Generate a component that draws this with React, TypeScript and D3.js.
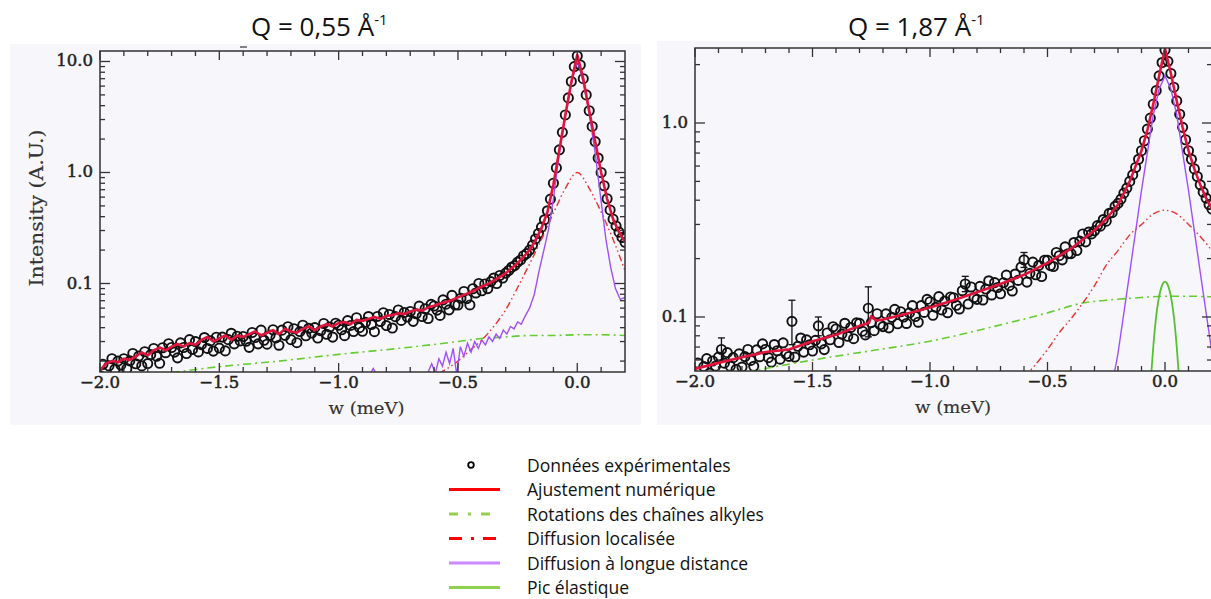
import React from 'react';
import * as d3 from 'd3';

// ---- sampling grid of the measured spectra (meV) ----
const W_START = -2.0;
const W_STEP = 0.0125;

// ---- Q = 0,55 Å-1 : experimental points (one per grid step, -2.0 .. 0.2 meV) ----
const DATA_Q055 = [
  0.0148, 0.0187, 0.0142, 0.0181, 0.021, 0.0169, 0.02, 0.0184,
  0.021, 0.0171, 0.0201, 0.0234, 0.0189, 0.0222, 0.0181, 0.0243,
  0.019, 0.0229, 0.026, 0.0221, 0.0191, 0.0264, 0.0238, 0.0287,
  0.0265, 0.0241, 0.0214, 0.0292, 0.0265, 0.0234, 0.0312, 0.0255,
  0.03, 0.0242, 0.0281, 0.0326, 0.026, 0.0304, 0.0246, 0.0328,
  0.0262, 0.0329, 0.0247, 0.0312, 0.0356, 0.0286, 0.0335, 0.0304,
  0.0333, 0.0302, 0.0266, 0.0362, 0.0326, 0.0286, 0.038, 0.0308,
  0.0284, 0.0341, 0.0383, 0.0324, 0.0278, 0.038, 0.0341, 0.0408,
  0.0312, 0.0391, 0.0293, 0.0369, 0.0421, 0.0338, 0.0395, 0.0358,
  0.04, 0.0323, 0.0375, 0.0436, 0.0349, 0.0406, 0.0329, 0.0439,
  0.0421, 0.0383, 0.0339, 0.0463, 0.0419, 0.0369, 0.0492, 0.04,
  0.0371, 0.0447, 0.0504, 0.0427, 0.0368, 0.0505, 0.0455, 0.0545,
  0.0418, 0.0526, 0.0397, 0.0503, 0.0578, 0.0465, 0.0548, 0.0499,
  0.056, 0.0456, 0.0534, 0.0625, 0.0504, 0.0592, 0.0484, 0.0649,
  0.0627, 0.0576, 0.0516, 0.0712, 0.0651, 0.0579, 0.0781, 0.0641,
  0.064, 0.0737, 0.0848, 0.0731, 0.0641, 0.0897, 0.0822, 0.1,
  0.086, 0.099, 0.09, 0.104, 0.112, 0.1, 0.118, 0.112,
  0.124, 0.131, 0.14, 0.145, 0.156, 0.163, 0.178, 0.186,
  0.2, 0.222, 0.252, 0.282, 0.322, 0.375, 0.452, 0.575,
  0.8, 1.1, 1.6, 2.3, 3.3, 4.7, 6.6, 9.0,
  11.2, 9.3, 7.0, 5.0, 3.6, 2.6, 1.9, 1.35,
  1.0, 0.76, 0.58, 0.46, 0.38, 0.33, 0.29, 0.26,
  0.235,
];

// ---- Q = 1,87 Å-1 : experimental points ----
const DATA_Q187 = [
  0.0497, 0.0578, 0.049, 0.0555, 0.061, 0.0514, 0.0593, 0.0558,
  0.0621, 0.068, 0.0578, 0.0655, 0.0558, 0.0617, 0.0537, 0.0646,
  0.0552, 0.0625, 0.068, 0.0597, 0.0557, 0.0677, 0.0624, 0.0727,
  0.068, 0.0617, 0.0585, 0.0721, 0.067, 0.0606, 0.0736, 0.0644,
  0.0626, 0.095, 0.0621, 0.0706, 0.0779, 0.0659, 0.0762, 0.0719,
  0.0668, 0.0758, 0.09, 0.0727, 0.0679, 0.0827, 0.0763, 0.0891,
  0.0867, 0.0739, 0.0816, 0.0928, 0.0795, 0.0883, 0.0773, 0.0933,
  0.0927, 0.0845, 0.0808, 0.111, 0.0935, 0.085, 0.1039, 0.0913,
  0.0892, 0.1038, 0.0879, 0.0996, 0.1095, 0.0923, 0.1064, 0.1,
  0.0926, 0.105, 0.1145, 0.1006, 0.094, 0.1145, 0.1056, 0.1232,
  0.1198, 0.102, 0.1122, 0.1274, 0.1088, 0.1207, 0.1052, 0.1268,
  0.1257, 0.1149, 0.11, 0.1366, 0.148, 0.1166, 0.1428, 0.1259,
  0.1233, 0.1439, 0.1224, 0.1393, 0.1537, 0.1299, 0.1503, 0.1419,
  0.1317, 0.1501, 0.1645, 0.1451, 0.1362, 0.1665, 0.1544, 0.1808,
  0.197, 0.1513, 0.1679, 0.1918, 0.1651, 0.1842, 0.1617, 0.1962,
  0.196, 0.184, 0.182, 0.215, 0.207, 0.197, 0.23, 0.212,
  0.212, 0.242, 0.22, 0.246, 0.268, 0.244, 0.274, 0.268,
  0.278, 0.296, 0.294, 0.318, 0.312, 0.342, 0.345, 0.372,
  0.385, 0.405, 0.435, 0.462, 0.5, 0.54, 0.59, 0.65,
  0.72, 0.81, 0.93, 1.06, 1.25, 1.47, 1.75, 2.05,
  2.38, 2.08, 1.8, 1.53, 1.3, 1.11, 0.95, 0.82,
  0.72, 0.65, 0.58, 0.53, 0.48, 0.44, 0.41, 0.38,
  0.36,
];

// visible error bars on Q = 1,87 : [w, low, high]
const ERRBARS_Q187: [number, number, number][] = [
  [-1.8875, 0.06, 0.078],
  [-1.5875, 0.072, 0.122],
  [-1.475, 0.08, 0.1],
  [-1.2625, 0.079, 0.143],
  [-0.85, 0.135, 0.162],
  [-0.6, 0.18, 0.215],
];

// ---- fits and components : [w, intensity] ----
const FIT_Q055: [number, number][] = [
  [-2.0, 0.0165], [-1.975, 0.019], [-1.95, 0.02], [-1.925, 0.0195], [-1.9, 0.021], [-1.875, 0.0205],
  [-1.85, 0.022], [-1.825, 0.024], [-1.8, 0.0225], [-1.775, 0.025], [-1.75, 0.0265], [-1.725, 0.025],
  [-1.7, 0.027], [-1.675, 0.0285], [-1.65, 0.027], [-1.625, 0.029], [-1.6, 0.028], [-1.575, 0.031],
  [-1.55, 0.033], [-1.525, 0.03], [-1.5, 0.032], [-1.475, 0.034], [-1.45, 0.031], [-1.425, 0.034],
  [-1.4, 0.033], [-1.375, 0.035], [-1.35, 0.037], [-1.325, 0.034], [-1.3, 0.036], [-1.275, 0.038],
  [-1.25, 0.035], [-1.225, 0.039], [-1.2, 0.037], [-1.175, 0.036], [-1.15, 0.039], [-1.125, 0.041],
  [-1.1, 0.038], [-1.075, 0.041], [-1.05, 0.043], [-1.025, 0.041], [-1.0, 0.044], [-0.975, 0.045],
  [-0.95, 0.043], [-0.925, 0.047], [-0.9, 0.046], [-0.875, 0.048], [-0.85, 0.05], [-0.825, 0.048],
  [-0.8, 0.051], [-0.775, 0.052], [-0.75, 0.054], [-0.725, 0.053], [-0.7, 0.056], [-0.675, 0.058],
  [-0.65, 0.057], [-0.625, 0.061], [-0.6, 0.063], [-0.575, 0.066], [-0.55, 0.068], [-0.525, 0.071],
  [-0.5, 0.075], [-0.475, 0.079], [-0.45, 0.083], [-0.425, 0.088], [-0.4, 0.094], [-0.375, 0.099],
  [-0.35, 0.106], [-0.325, 0.114], [-0.3, 0.124], [-0.275, 0.137], [-0.25, 0.153], [-0.225, 0.174],
  [-0.2, 0.2], [-0.175, 0.245], [-0.15, 0.315], [-0.125, 0.44], [-0.1, 0.78], [-0.075, 1.6],
  [-0.05, 3.3], [-0.025, 6.5], [0.0, 11.5], [0.025, 7.0], [0.05, 3.6], [0.075, 1.9], [0.1, 1.0],
  [0.125, 0.58], [0.15, 0.38], [0.175, 0.29], [0.2, 0.235],
];

const LONG_Q055: [number, number][] = [
  [-0.87, 0.015], [-0.855, 0.0172], [-0.84, 0.015],
  [-0.63, 0.015], [-0.61, 0.019], [-0.595, 0.0155], [-0.58, 0.021], [-0.565, 0.018], [-0.55, 0.024],
  [-0.535, 0.019], [-0.52, 0.026], [-0.505, 0.015], [-0.49, 0.027], [-0.475, 0.022], [-0.46, 0.029],
  [-0.445, 0.024], [-0.43, 0.03], [-0.415, 0.026], [-0.4, 0.031], [-0.385, 0.028], [-0.37, 0.033],
  [-0.355, 0.03], [-0.34, 0.035], [-0.325, 0.032], [-0.31, 0.038], [-0.295, 0.035], [-0.28, 0.041],
  [-0.265, 0.039], [-0.25, 0.045], [-0.235, 0.043], [-0.22, 0.05], [-0.2, 0.06], [-0.18, 0.08],
  [-0.16, 0.13], [-0.14, 0.2], [-0.12, 0.31], [-0.1, 0.58], [-0.075, 1.5], [-0.05, 3.2],
  [-0.025, 6.3], [0.0, 10.3], [0.025, 6.5], [0.05, 3.4], [0.075, 1.5], [0.1, 0.55], [0.12, 0.25],
  [0.14, 0.14], [0.16, 0.09], [0.18, 0.072], [0.2, 0.075],
];

const LOCAL_Q055: [number, number][] = [
  [-0.58, 0.0155], [-0.5, 0.02], [-0.45, 0.025], [-0.4, 0.031], [-0.35, 0.041], [-0.3, 0.058],
  [-0.25, 0.092], [-0.2, 0.15], [-0.15, 0.25], [-0.1, 0.43], [-0.05, 0.72], [0.0, 1.0],
  [0.05, 0.72], [0.1, 0.44], [0.15, 0.25], [0.2, 0.13],
];

const ROT_Q055: [number, number][] = [
  [-1.7, 0.0158], [-1.5, 0.0178], [-1.25, 0.02], [-1.0, 0.023], [-0.75, 0.026], [-0.5, 0.03],
  [-0.4, 0.032], [-0.3, 0.033], [-0.2, 0.034], [-0.1, 0.034], [0.0, 0.0345], [0.1, 0.0345], [0.2, 0.034],
];

const FIT_Q187: [number, number][] = [
  [-2.0, 0.054], [-1.9, 0.058], [-1.8, 0.062], [-1.7, 0.066], [-1.6, 0.068], [-1.5, 0.075],
  [-1.4, 0.081], [-1.3, 0.09], [-1.26, 0.093], [-1.25, 0.101], [-1.23, 0.096], [-1.2, 0.097],
  [-1.1, 0.104], [-1.0, 0.112], [-0.9, 0.122], [-0.8, 0.134], [-0.7, 0.148], [-0.6, 0.165],
  [-0.5, 0.19], [-0.4, 0.225], [-0.3, 0.28], [-0.25, 0.32], [-0.2, 0.38], [-0.15, 0.5],
  [-0.1, 0.72], [-0.075, 0.92], [-0.05, 1.25], [-0.025, 1.75], [0.0, 2.42], [0.025, 1.8],
  [0.05, 1.3], [0.075, 0.95], [0.1, 0.72], [0.125, 0.58], [0.15, 0.48], [0.175, 0.41], [0.2, 0.36],
];

const LONG_Q187: [number, number][] = [
  [-0.22, 0.048], [-0.2, 0.065], [-0.15, 0.17], [-0.1, 0.45], [-0.05, 1.1], [-0.025, 1.5],
  [0.0, 1.75], [0.025, 1.5], [0.05, 1.1], [0.1, 0.45], [0.15, 0.17], [0.2, 0.065], [0.22, 0.048],
];

const LOCAL_Q187: [number, number][] = [
  [-0.6, 0.049], [-0.55, 0.057], [-0.5, 0.068], [-0.45, 0.083], [-0.4, 0.098], [-0.35, 0.118],
  [-0.3, 0.145], [-0.25, 0.185], [-0.2, 0.22], [-0.15, 0.265], [-0.1, 0.3], [-0.05, 0.34],
  [0.0, 0.355], [0.05, 0.34], [0.1, 0.3], [0.15, 0.26], [0.2, 0.22],
];

const ROT_Q187: [number, number][] = [
  [-1.78, 0.052], [-1.5, 0.06], [-1.25, 0.067], [-1.0, 0.075], [-0.75, 0.088], [-0.5, 0.105],
  [-0.35, 0.118], [-0.25, 0.122], [-0.1, 0.126], [0.0, 0.128], [0.1, 0.128], [0.2, 0.127],
];

const ELASTIC_Q187: [number, number][] = [
  [-0.06, 0.048], [-0.05, 0.07], [-0.04, 0.095], [-0.03, 0.118], [-0.02, 0.136], [-0.01, 0.148],
  [0.0, 0.152], [0.01, 0.148], [0.02, 0.136], [0.03, 0.118], [0.04, 0.095], [0.05, 0.07], [0.06, 0.048],
];

const X_DOMAIN: [number, number] = [-2.0, 0.2];
const X_MAJOR = [-2.0, -1.5, -1.0, -0.5, 0.0];
const X_MINOR = [-1.9, -1.8, -1.7, -1.6, -1.4, -1.3, -1.2, -1.1, -0.9, -0.8, -0.7, -0.6, -0.4, -0.3, -0.2, -0.1, 0.1];
const X_LABELS = ['\u22122.0', '\u22121.5', '\u22121.0', '\u22120.5', '0.0'];

const LEGEND_LABELS = [
  'Données expérimentales',
  'Ajustement numérique',
  'Rotations des chaînes alkyles',
  'Diffusion localisée',
  'Diffusion à longue distance',
  'Pic élastique',
];

const C_FIT = '#e0143c';
const C_LOCAL = '#f03030';
const C_LONG = '#a050f8';
const C_ROT = '#66cc33';
const C_ELASTIC = '#55c030';

type PanelCfg = {
  id: string;
  q: string;
  titleX: number;
  bg: [number, number, number, number];
  x0: number; x1: number; y0: number; y1: number;
  yDomain: [number, number];
  yLabels: { v: number; t: string }[];
  data: number[];
  fit: [number, number][];
  long: [number, number][];
  local: [number, number][];
  rot: [number, number][];
  elastic?: [number, number][];
  errbars?: [number, number, number][];
  yTitle?: boolean;
};

const SERIF = '"DejaVu Serif", "Liberation Serif", serif';
const SANS = '"Open Sans", "Noto Sans", sans-serif';

function Panel({ c }: { c: PanelCfg }) {
  const x = d3.scaleLinear().domain(X_DOMAIN).range([c.x0, c.x1]);
  const y = d3.scaleLog().domain(c.yDomain).range([c.y1, c.y0]);
  const line = d3.line<[number, number]>().x(d => x(d[0])).y(d => y(d[1]));
  const smooth = d3.line<[number, number]>().x(d => x(d[0])).y(d => y(d[1])).curve(d3.curveMonotoneX);
  const yt = y.ticks().filter(v => v >= c.yDomain[0] && v <= c.yDomain[1]);
  const isMajor = (v: number) => Math.abs(Math.log10(v) - Math.round(Math.log10(v))) < 1e-6;
  const clip = `clip-${c.id}`;
  const xMid = (c.x0 + Math.min(c.x1, 1211)) / 2 + (c.id === 'a' ? 4 : 0);
  return (
    <g>
      <rect x={c.bg[0]} y={c.bg[1]} width={c.bg[2]} height={c.bg[3]} fill="#f7f7fb" />
      <defs>
        <clipPath id={clip}>
          <rect x={c.x0} y={c.y0} width={c.x1 - c.x0} height={c.y1 - c.y0} />
        </clipPath>
      </defs>
      <g clipPath={`url(#${clip})`}>
        {c.errbars && c.errbars.map(([w, lo, hi], i) => (
          <g key={'e' + i} stroke="#111" strokeWidth={1.3}>
            <line x1={x(w)} x2={x(w)} y1={y(lo)} y2={y(hi)} />
            <line x1={x(w) - 3.5} x2={x(w) + 3.5} y1={y(lo)} y2={y(lo)} />
            <line x1={x(w) - 3.5} x2={x(w) + 3.5} y1={y(hi)} y2={y(hi)} />
          </g>
        ))}
        {c.data.map((v, i) => (
          <circle key={i} cx={x(W_START + i * W_STEP)} cy={y(v)} r={4.6} fill="none" stroke="#111" strokeWidth={1.9} />
        ))}
        <path d={smooth(c.rot) || ''} fill="none" stroke={C_ROT} strokeWidth={1.6} strokeDasharray="8,4,2,4" />
        <path d={smooth(c.local) || ''} fill="none" stroke={C_LOCAL} strokeWidth={1.4} strokeDasharray="7,3,1.5,3,1.5,3" />
        <path d={line(c.long) || ''} fill="none" stroke={C_LONG} strokeWidth={1.4} />
        {c.elastic && <path d={smooth(c.elastic) || ''} fill="none" stroke={C_ELASTIC} strokeWidth={1.8} />}
        <path d={line(c.fit) || ''} fill="none" stroke={C_FIT} strokeWidth={2.6} strokeLinejoin="round" />
      </g>
      <rect x={c.x0} y={c.y0} width={c.x1 - c.x0} height={c.y1 - c.y0} fill="none" stroke="#333" strokeWidth={1.5} />
      <g stroke="#333" strokeWidth={1.3}>
        {X_MAJOR.map(v => (
          <g key={'M' + v}>
            <line x1={x(v)} x2={x(v)} y1={c.y1} y2={c.y1 - 9} />
            <line x1={x(v)} x2={x(v)} y1={c.y0} y2={c.y0 + 9} />
          </g>
        ))}
        {X_MINOR.map(v => (
          <g key={'m' + v}>
            <line x1={x(v)} x2={x(v)} y1={c.y1} y2={c.y1 - 5} />
            <line x1={x(v)} x2={x(v)} y1={c.y0} y2={c.y0 + 5} />
          </g>
        ))}
        {yt.map(v => {
          const L = isMajor(v) ? 10 : 5;
          return (
            <g key={'y' + v}>
              <line x1={c.x0} x2={c.x0 + L} y1={y(v)} y2={y(v)} />
              <line x1={c.x1} x2={c.x1 - L} y1={y(v)} y2={y(v)} />
            </g>
          );
        })}
      </g>
      <g fontFamily={SERIF} fontSize={16.5} fill="#222" stroke="#222" strokeWidth={0.5}>
        {X_MAJOR.map((v, i) => (
          <text key={'xl' + v} x={x(v)} y={c.y1 + 16} textAnchor="middle">{X_LABELS[i]}</text>
        ))}
        {c.yLabels.map(l => (
          <text key={'yl' + l.t} x={c.x0 - 7} y={y(l.v) + 5} textAnchor="end">{l.t}</text>
        ))}
      </g>
      <g fontFamily={SERIF} fill="#333" stroke="#333" strokeWidth={0.15}>
        <text x={xMid - 38} y={c.y1 + 42} fontSize={16.5} textLength={76} lengthAdjust="spacingAndGlyphs">w (meV)</text>
        {c.yTitle && (
          <text transform={`translate(43, ${(c.y0 + c.y1) / 2 + 75}) rotate(-90)`} fontSize={18}
            textLength={157} lengthAdjust="spacingAndGlyphs">Intensity (A.U.)</text>
        )}
      </g>
      <text x={c.titleX} y={36} fontFamily={SANS} fontSize={26} fill="#111">
        <tspan>{`Q = ${c.q} Å`}</tspan>
        <tspan fontSize={15} dy={-11}>-1</tspan>
      </text>
    </g>
  );
}

const PANELS: PanelCfg[] = [
  {
    id: 'a', q: '0,55', titleX: 251, bg: [10, 44, 631, 381],
    x0: 100, x1: 625, y0: 51, y1: 372, yDomain: [0.01595, 12.43],
    yLabels: [{ v: 10, t: '10.0' }, { v: 1, t: '1.0' }, { v: 0.1, t: '0.1' }],
    data: DATA_Q055, fit: FIT_Q055, long: LONG_Q055, local: LOCAL_Q055, rot: ROT_Q055, yTitle: true,
  },
  {
    id: 'b', q: '1,87', titleX: 848, bg: [657, 41, 554, 384],
    x0: 695, x1: 1212, y0: 48, y1: 371, yDomain: [0.05267, 2.436],
    yLabels: [{ v: 1, t: '1.0' }, { v: 0.1, t: '0.1' }],
    data: DATA_Q187, fit: FIT_Q187, long: LONG_Q187, local: LOCAL_Q187, rot: ROT_Q187,
    elastic: ELASTIC_Q187, errbars: ERRBARS_Q187,
  },
];

function Legend() {
  const rows = [465, 489.5, 514, 538.5, 563, 587.5];
  const lx0 = 449, lx1 = 500;
  return (
    <g>
      <circle cx={471} cy={rows[0]} r={2.8} fill="none" stroke="#000" strokeWidth={1.8} />
      <line x1={lx0} x2={lx1} y1={rows[1]} y2={rows[1]} stroke="#ff0000" strokeWidth={3} />
      <line x1={lx0} x2={lx1} y1={rows[2]} y2={rows[2]} stroke="#92d050" strokeWidth={3} strokeDasharray="9,10,3,10" />
      <line x1={lx0} x2={lx1} y1={rows[3]} y2={rows[3]} stroke="#ff0000" strokeWidth={3} strokeDasharray="13,9,3,9" />
      <line x1={lx0} x2={lx1} y1={rows[4]} y2={rows[4]} stroke="#cc88ff" strokeWidth={3} />
      <line x1={lx0} x2={lx1} y1={rows[5]} y2={rows[5]} stroke="#92d050" strokeWidth={3} />
      {LEGEND_LABELS.map((t, i) => (
        <text key={t} x={527} y={rows[i] + 6.5} fontFamily={SANS} fontSize={17.5} fill="#111">{t}</text>
      ))}
    </g>
  );
}

export default function App() {
  return (
    <svg width={1211} height={599} style={{ position: 'absolute', left: 0, top: 0, display: 'block', background: '#fff' }}>
      <rect x={0} y={0} width={1211} height={599} fill="#fff" />
      {PANELS.map(p => <Panel key={p.id} c={p} />)}
      <line x1={240} x2={247} y1={47} y2={47} stroke="#333" strokeWidth={1.2} />
      <Legend />
    </svg>
  );
}
